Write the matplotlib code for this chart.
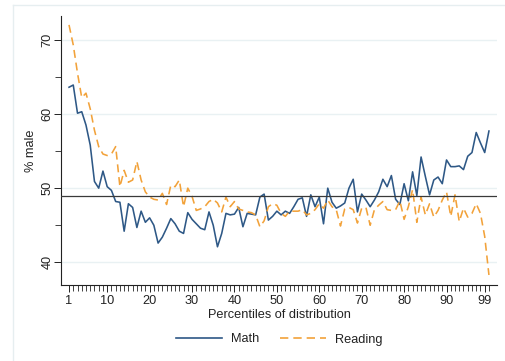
import matplotlib
matplotlib.use("Agg")
import matplotlib.pyplot as plt
from matplotlib.lines import Line2D
import numpy as np

percentiles = list(range(1, 101))
math = [63.6, 63.9, 60.1, 60.3, 58.5, 55.8, 50.9, 50.0, 52.3, 50.2,
        49.7, 48.2, 48.1, 44.2, 47.9, 47.4, 44.7, 46.9, 45.4, 46.0,
        45.0, 42.6, 43.4, 44.6, 45.9, 45.2, 44.2, 43.9, 46.7, 45.8,
        45.2, 44.6, 44.4, 46.8, 45.0, 42.1, 43.9, 46.6, 46.4, 46.5,
        47.4, 44.8, 46.6, 46.5, 46.4, 48.8, 49.2, 45.7, 46.2, 46.9,
        46.4, 46.9, 46.6, 47.5, 48.5, 48.7, 46.2, 49.1, 47.5, 48.8,
        45.2, 50.0, 48.1, 47.3, 47.6, 48.0, 50.0, 51.2, 46.8, 49.2,
        48.4, 47.5, 48.4, 49.5, 51.2, 50.2, 51.7, 48.5, 47.8, 50.6,
        48.3, 52.2, 49.0, 54.2, 51.6, 49.1, 51.1, 51.5, 50.6, 53.8,
        52.9, 52.9, 53.0, 52.5, 54.3, 54.8, 57.5, 56.1, 54.8, 57.7]
reading = [72.0, 69.3, 65.5, 62.2, 62.8, 60.7, 57.8, 55.6, 54.6, 54.4,
           54.6, 55.6, 50.2, 52.4, 50.8, 51.1, 53.6, 51.1, 49.5, 48.8,
           48.5, 48.4, 49.3, 47.8, 50.4, 50.2, 51.1, 47.5, 50.0, 48.9,
           47.0, 47.2, 47.5, 48.2, 48.5, 48.0, 46.8, 48.8, 47.5, 48.2,
           47.2, 47.0, 46.8, 46.7, 46.4, 44.8, 45.6, 47.5, 47.9, 47.7,
           46.6, 46.2, 46.9, 46.9, 46.9, 47.1, 46.4, 46.6, 47.1, 47.9,
           47.3, 48.4, 47.5, 47.1, 44.9, 47.2, 47.4, 47.1, 45.3, 47.3,
           47.4, 45.0, 47.1, 47.7, 48.2, 47.1, 47.0, 47.1, 48.3, 45.8,
           47.5, 49.8, 45.4, 48.8, 46.4, 47.9, 46.1, 47.0, 48.4, 49.5,
           46.2, 49.1, 45.5, 47.3, 46.1, 46.6, 47.9, 46.6, 43.5, 38.3]
x_labels = [1, 10, 20, 30, 40, 50, 60, 70, 80, 90, 99]
y_labels = [40, 50, 60, 70]
ref_value = 49

plt.rcParams['font.family'] = ['Liberation Sans', 'DejaVu Sans']

W, H = 506, 361
fig = plt.figure(figsize=(W / 100, H / 100), dpi=100)
ax = fig.add_axes([61 / W, 1 - 285 / H, (497 - 61) / W, (285 - 16) / H])

math_color = '#2e5886'
read_color = '#f2a23a'
fs = 9.2

ax.set_xlim(-0.89, 101.9)
ax.set_ylim(36.95, 73.2)

for y in y_labels:
    ax.axhline(y, color='#e9f1f3', lw=1.0, zorder=0)

ax.plot(percentiles, math, color=math_color, lw=1.15, label='Math', zorder=3)
ax.plot(percentiles, reading, color=read_color, lw=1.15, dashes=(5, 3),
        label='Reading', zorder=3)
ax.axhline(ref_value, color='#3a3a3a', lw=0.9, zorder=4)

for s in ['top', 'right']:
    ax.spines[s].set_visible(False)
for s in ['left', 'bottom']:
    ax.spines[s].set_color('#222222')
    ax.spines[s].set_linewidth(0.8)

ax.set_yticks(y_labels)
ax.set_yticks([45, 55, 65], minor=True)
ax.set_yticklabels([str(v) for v in y_labels], rotation=90, va='center')
ax.set_xticks(x_labels)
ax.set_xticklabels([str(v) for v in x_labels])
ax.set_xticks(percentiles, minor=True)
ax.tick_params(axis='both', which='major', length=5, width=0.7, color='#222222',
               labelsize=fs, labelcolor='#222222')
ax.tick_params(axis='both', which='minor', length=4, width=0.6, color='#222222')
ax.tick_params(axis='y', which='major', pad=0.5)
ax.tick_params(axis='x', which='major', pad=2.5)

ax.set_xlabel('Percentiles of distribution', fontsize=fs, color='#222222', labelpad=1)
ax.set_ylabel('% male', fontsize=fs, color='#222222', labelpad=3)

leg = fig.legend(handles=[Line2D([], [], color=math_color, lw=1.2),
                          Line2D([], [], color=read_color, lw=1.2, dashes=(5, 3))],
                 labels=['Math', 'Reading'], loc='center', ncol=2,
                 bbox_to_anchor=(279 / W, 1 - 339.5 / H), frameon=False,
                 fontsize=fs, handlelength=3.6, columnspacing=1.6, handletextpad=0.7)
for t in leg.get_texts():
    t.set_color('#222222')

# faint outer graph-region border
fig.add_artist(Line2D([13 / W, 13 / W], [0, 1 - 5 / H], color='#e6eef0', lw=1.0))
fig.add_artist(Line2D([13 / W, 1], [1 - 5 / H, 1 - 5 / H], color='#e6eef0', lw=1.0))

fig.savefig('out.png', dpi=100)
